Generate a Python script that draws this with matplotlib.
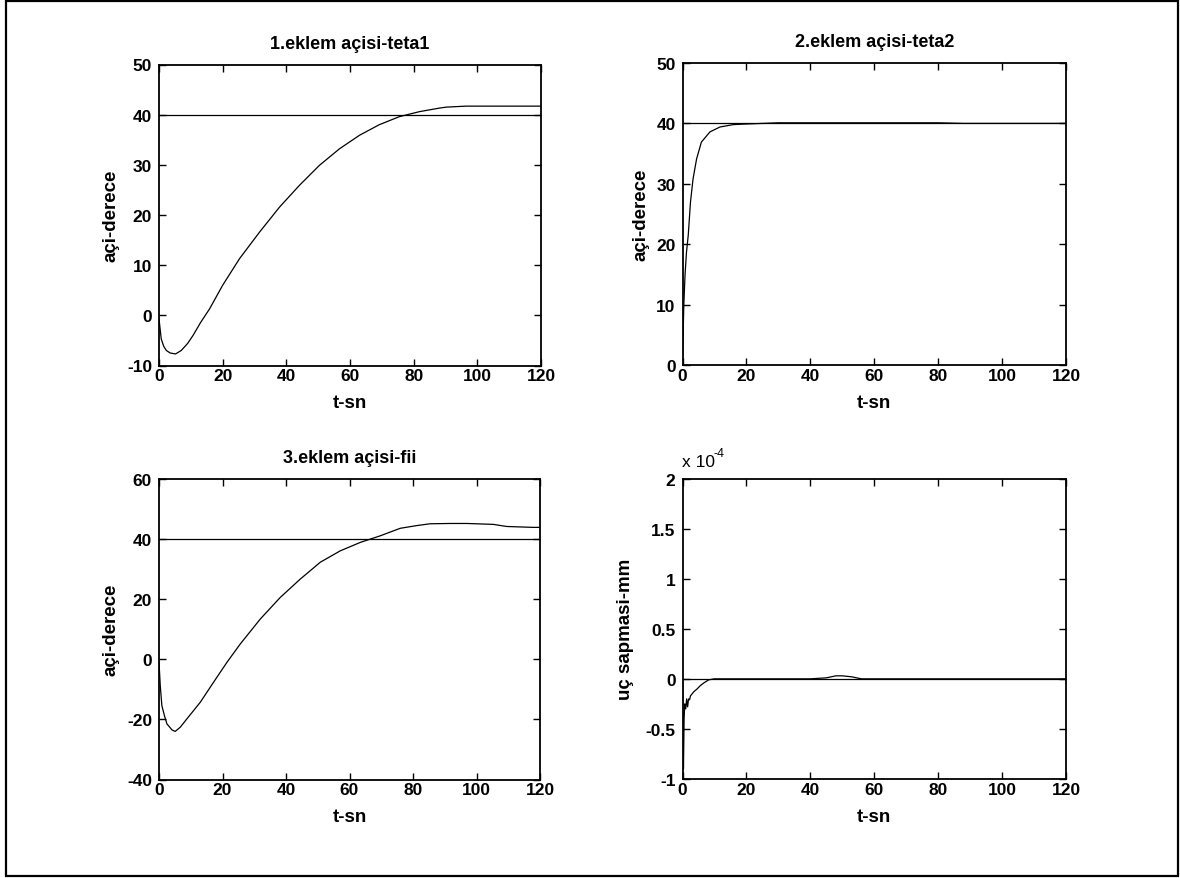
import matplotlib
matplotlib.use("Agg")
import matplotlib.pyplot as plt
from matplotlib.ticker import FuncFormatter, MultipleLocator
from matplotlib.patches import Rectangle

plt.rcParams['font.family'] = ['Liberation Sans', 'DejaVu Sans']
plt.rcParams['axes.unicode_minus'] = False

# ---- data ----
titles = ["1.eklem açisi-teta1", "2.eklem açisi-teta2", "3.eklem açisi-fii", ""]
ylabels = ["açi-derece", "açi-derece", "açi-derece", "uç sapmasi-mm"]
xlabel = "t-sn"

ref1 = 40
t1 = [0, 0.7, 1.5, 2.3, 3.5, 5.2, 7, 9, 10.7, 13, 15.9, 20, 25.3, 31.6, 37.9, 44.1,
      50.4, 56.7, 63, 69.2, 75.5, 81.8, 88, 90.2, 96.4, 105, 120]
y1 = [-0.7, -4.7, -6.2, -7.0, -7.5, -7.7, -7.0, -5.6, -4.0, -1.5, 1.3, 6.0, 11.3, 16.6,
      21.6, 25.9, 29.9, 33.2, 35.9, 38.0, 39.6, 40.6, 41.3, 41.5, 41.7, 41.7, 41.7]

ref2 = 40
t2 = [0, 0.2, 0.4, 0.8, 1.25, 1.8, 2.5, 3.3, 4.4, 5.9, 8.6, 11.7, 15.9, 20, 25, 30,
      40, 50, 60, 70, 80, 88, 95, 120]
y2 = [0, 5, 9.8, 15, 18.7, 21.5, 27, 30.8, 34.1, 36.9, 38.6, 39.4, 39.8, 39.9, 40,
      40.1, 40.1, 40.1, 40.1, 40.1, 40.1, 40.0, 40.0, 40.0]

ref3 = 40
t3 = [0, 0.4, 0.9, 1.7, 2.5, 4.1, 5.1, 6.7, 8.8, 13, 17.2, 21.4, 25.6, 31.9, 38.2,
      44.5, 50.8, 57.1, 63.4, 69.7, 76, 81.2, 85.4, 91.7, 97, 105.3, 109.5, 117.9, 120]
y3 = [-1, -8.8, -15.4, -18.7, -21.5, -23.5, -24, -22.6, -19.8, -14.3, -7.6, -1, 5.1,
      13.4, 20.6, 26.7, 32.3, 36.1, 38.9, 41.1, 43.6, 44.5, 45.1, 45.2, 45.2, 44.9,
      44.2, 43.9, 43.9]

ref4 = 0
t4 = [0, 0.3, 0.5, 0.7, 1.0, 1.3, 1.6, 1.9, 2.2, 2.5, 3.5, 4.6, 5.5, 6.7, 8.2, 10,
      20, 40, 45, 48, 50, 53, 56, 60, 120]
e4 = [0, -0.9e-4, -0.4e-4, -0.25e-4, -0.3e-4, -0.2e-4, -0.28e-4, -0.2e-4, -0.21e-4,
      -0.17e-4, -0.13e-4, -0.1e-4, -0.07e-4, -0.04e-4, -0.01e-4, 0, 0, 0, 0.01e-4,
      0.03e-4, 0.03e-4, 0.02e-4, 0, 0, 0]

ylims = [(-10, 50), (0, 50), (-40, 60), (-1e-4, 2e-4)]
ysteps = [10, 10, 20, 0.5e-4]

W, H = 1180, 879
fig = plt.figure(figsize=(W / 100, H / 100), dpi=100)

# outer frame
fig.patches.append(Rectangle((6 / W, 2 / H), (1178 - 6) / W, (877 - 2) / H,
                             transform=fig.transFigure, fill=False,
                             edgecolor='black', linewidth=1.6))

positions = [
    (159 / W, 1 - 366.5 / H, 382 / W, 301 / H),
    (682.5 / W, 1 - 366 / H, 383.5 / W, 302 / H),
    (159 / W, 1 - 780.5 / H, 381 / W, 300.5 / H),
    (682.5 / W, 1 - 780 / H, 383.5 / W, 300.5 / H),
]
series = [(t1, y1, ref1), (t2, y2, ref2), (t3, y3, ref3), (t4, e4, ref4)]

for i, (pos, (tt, yy, ref)) in enumerate(zip(positions, series)):
    ax = fig.add_axes(pos)
    ax.axhline(ref, color='black', linewidth=0.9)
    ax.plot(tt, yy, color='black', linewidth=0.9)
    ax.set_xlim(0, 120)
    ax.set_ylim(*ylims[i])
    ax.xaxis.set_major_locator(MultipleLocator(20))
    ax.yaxis.set_major_locator(MultipleLocator(ysteps[i]))
    ax.tick_params(direction='in', top=True, right=True, length=5, width=1,
                   labelsize=12.5)
    ax.tick_params(axis='x', pad=2)
    ax.tick_params(axis='y', pad=5)
    for s in ax.spines.values():
        s.set_linewidth(1.3)
    ax.set_xlabel(xlabel, fontsize=13.5, fontweight='bold', labelpad=8)
    ax.set_ylabel(ylabels[i], fontsize=13.5, fontweight='bold',
                  labelpad=5 if i < 3 else 8)
    if titles[i]:
        ax.set_title(titles[i], fontsize=13, fontweight='bold', pad=12)
    if i == 3:
        ax.yaxis.set_major_formatter(FuncFormatter(lambda v, p: f"{v / 1e-4:g}"))
        ax.text(0.0, 1.03, "x 10", transform=ax.transAxes, fontsize=12.5,
                ha='left', va='bottom')
        ax.text(0.08, 1.065, "-4", transform=ax.transAxes, fontsize=9,
                ha='left', va='bottom')
    for lab in ax.get_xticklabels() + ax.get_yticklabels():
        lab.set_fontweight('bold')

fig.savefig("out.png", dpi=100)
